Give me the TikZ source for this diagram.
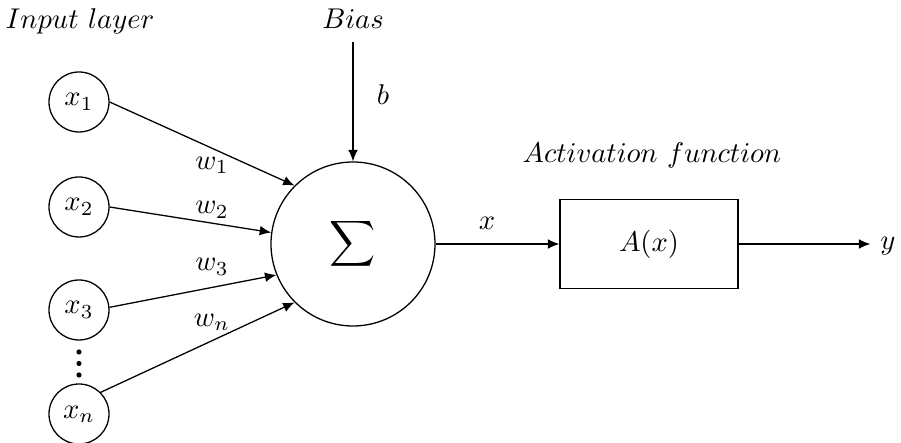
\documentclass[tikz,border=0pt]{standalone}
\usetikzlibrary{arrows.meta}
\begin{document}
\begin{tikzpicture}[x=0.35pt,y=-0.35pt,
  inp/.style={draw,circle,minimum size=21pt,inner sep=0pt,line width=0.45pt},
  sumnode/.style={draw,circle,minimum size=57.4pt,inner sep=0pt,line width=0.45pt},
  actbox/.style={draw,rectangle,minimum width=62.3pt,minimum height=31.2pt,line width=0.45pt},
  conn/.style={-{Latex[length=4pt,width=3.4pt]},line width=0.45pt},
  lbl/.style={inner sep=1pt}]
\useasboundingbox (0,0) rectangle (901,443);
\node[lbl] (inlayer) at (80,21) {$Input\ layer$};
\node (bias) at (353,19) {$Bias$};
\node[lbl] (actlabel) at (652,155) {$Activation\ function$};

\node[inp] (x1) at (79,102) {$x_1$};
\node[inp] (x2) at (79,207) {$x_2$};
\node[inp] (x3) at (79,310) {$x_3$};
\node[inp] (xn) at (79,414) {$x_n$};
\fill (79,352) circle (2.6);
\fill (79,363.5) circle (2.6);
\fill (79,375) circle (2.6);

\node[sumnode] (sum) at (353,244) {\scalebox{1.12}{$\displaystyle\sum$}};
\node[actbox] (act) at (649,244) {$A(x)$};
\node (yout) at (888,246) {$y$};

\draw[conn] (x1.east) -- (sum.135);
\draw[conn] (x2.east) -- (sum.172);
\draw[conn] (x3.5) -- (sum.202);
\draw[conn] (xn.45) -- (sum.225);
\draw[conn,shorten <=1pt] (bias.south) -- (sum.north);
\draw[conn] (sum.east) -- (act.west);
\draw[conn] (act.east) -- (act.east -| yout.west);

\node[lbl] (w1) at (212,165) {$w_1$};
\node[lbl] (w2) at (212,210) {$w_2$};
\node[lbl] (w3) at (212,267) {$w_3$};
\node[lbl] (wn) at (212,322) {$w_n$};
\node[lbl] (b) at (383,95) {$b$};
\node[lbl] (xlbl) at (487,223) {$x$};
\end{tikzpicture}
\end{document}
